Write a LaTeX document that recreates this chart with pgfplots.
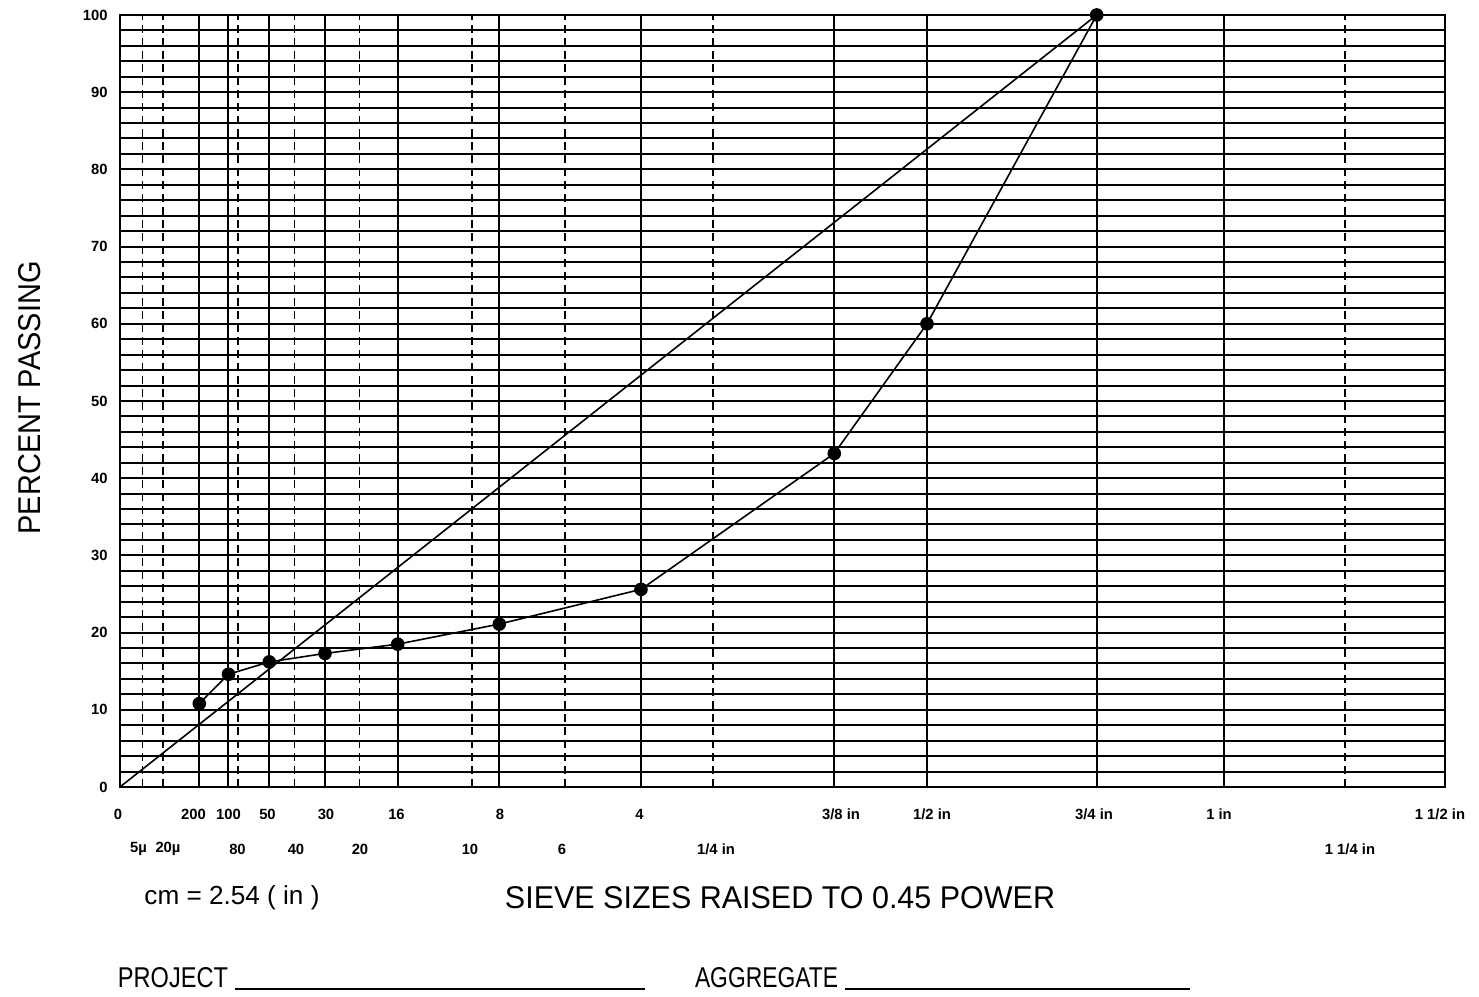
\documentclass[border=0pt]{standalone}
\usepackage{pgfplots}
\pgfplotsset{compat=1.18}
\usepackage{fontspec}
\setmainfont{Liberation Sans}
\newcommand\tl{\fontsize{7.4}{8}\selectfont\bfseries}
\begin{document}
\begin{tikzpicture}
\begin{axis}[
  x=0.5pt, y=3.86pt,
  xmin=0, xmax=1325, ymin=0, ymax=100,
  axis line style={line width=1pt},
  clip=false,
  xtick={79.3,108.5,149.3,205,277.7,379.3,521,714.3,807,976.7,1104},
  xticklabels={},
  extra x ticks={22.5,43,118.3,174.5,239.5,352,445,593.3,1225},
  extra x tick labels={},
  extra x tick style={major grid style={black, line width=0.9pt, dash pattern=on 4pt off 2.5pt}},
  xmajorgrids, ymajorgrids, yminorgrids,
  major grid style={black, line width=1pt},
  minor grid style={black, line width=1pt},
  ytick={0,10,...,100},
  minor ytick={2,4,...,98},
  major tick length=0pt, minor tick length=0pt,
  yticklabel style={font=\tl, inner sep=0pt, xshift=-6pt},
  yticklabels={0,10,20,30,40,50,60,70,80,90,100},
]
\addplot[black, line width=0.8pt] coordinates {(0,0)(976.7,100)};
\addplot[black, line width=0.8pt, mark=*, mark size=3pt, mark options={solid, fill=black}] coordinates {
(79.3,10.8)(108.5,14.6)(149.3,16.2)(205,17.3)(277.7,18.5)(379.3,21.1)(521,25.6)(714.3,43.2)(807,60)(976.7,100)};

% top row labels
\node[font=\tl] at (axis cs:-2,-3.5) {0};
\node[font=\tl] at (axis cs:73.5,-3.5) {200};
\node[font=\tl] at (axis cs:108.5,-3.5) {100};
\node[font=\tl] at (axis cs:147.5,-3.5) {50};
\node[font=\tl] at (axis cs:206,-3.5) {30};
\node[font=\tl] at (axis cs:276.5,-3.5) {16};
\node[font=\tl] at (axis cs:380,-3.5) {8};
\node[font=\tl] at (axis cs:519.5,-3.5) {4};
\node[font=\tl] at (axis cs:721,-3.5) {3/8 in};
\node[font=\tl] at (axis cs:812,-3.5) {1/2 in};
\node[font=\tl] at (axis cs:974,-3.5) {3/4 in};
\node[font=\tl] at (axis cs:1099,-3.5) {1 in};
\node[font=\tl] at (axis cs:1320,-3.5) {1 1/2 in};
% bottom row labels
\node[font=\tl] at (axis cs:18.5,-8.03) {5µ};
\node[font=\tl] at (axis cs:48,-8.03) {20µ};
\node[font=\tl] at (axis cs:117.5,-8.03) {80};
\node[font=\tl] at (axis cs:176,-8.03) {40};
\node[font=\tl] at (axis cs:240,-8.03) {20};
\node[font=\tl] at (axis cs:350,-8.03) {10};
\node[font=\tl] at (axis cs:442,-8.03) {6};
\node[font=\tl] at (axis cs:596,-8.03) {1/4 in};
\node[font=\tl] at (axis cs:1230,-8.03) {1 1/4 in};

\node[rotate=90] at (axis cs:-90,50.4) {\resizebox{136.5pt}{11pt}{PERCENT PASSING}};
\node at (axis cs:660,-14.38) {\resizebox{275pt}{11pt}{SIEVE SIZES RAISED TO 0.45 POWER}};
\node at (axis cs:112,-14.38) {\resizebox{87.5pt}{!}{\fontsize{14}{16}\selectfont cm = 2.54 ( in )}};
\node at (axis cs:53,-24.74) {\resizebox{55pt}{10pt}{PROJECT}};
\draw[line width=0.8pt] (axis cs:115,-26.17) -- (axis cs:525,-26.17);
\node at (axis cs:646.5,-24.74) {\resizebox{71.5pt}{10pt}{AGGREGATE}};
\draw[line width=0.8pt] (axis cs:725,-26.17) -- (axis cs:1070,-26.17);

\coordinate (bl) at (axis cs:-120,-27.2);
\coordinate (tr) at (axis cs:1359,101.94);
\end{axis}
\pgfresetboundingbox
\path[use as bounding box] (bl) rectangle (tr);
\end{tikzpicture}
\end{document}
